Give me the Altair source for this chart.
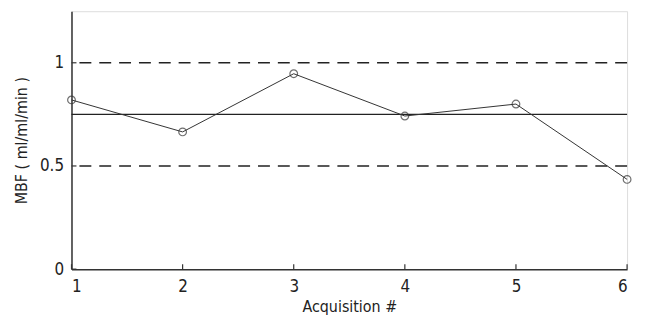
import altair as alt
import pandas as pd

acq = [1, 2, 3, 4, 5, 6]
mbf = [0.82, 0.665, 0.947, 0.742, 0.80, 0.435]
ref_levels = [0.5, 0.75, 1.0]
ref_dash = [True, False, True]
xticks = [1, 2, 3, 4, 5, 6]
yticks = [0, 0.5, 1]

df = pd.DataFrame({"acq": acq, "mbf": mbf})
refs = pd.DataFrame({"y": ref_levels, "dashed": ref_dash})
xt = pd.DataFrame({"x": xticks})
yt = pd.DataFrame({"y": yticks})

FONT = "DejaVu Sans Condensed, Liberation Sans, sans-serif"
xscale = alt.Scale(domain=[1, 6], nice=False, zero=False)
yscale = alt.Scale(domain=[0, 1.25], nice=False)

xaxis = alt.Axis(values=xticks, title="Acquisition #", ticks=False, grid=False,
                 labelFont=FONT, labelFontSize=17, labelColor="#222", labelPadding=10,
                 titleFont=FONT, titleFontSize=16, titleColor="#222", titleFontWeight="normal",
                 titlePadding=4, domainColor="#333", domainWidth=1.5, format="d")
yaxis = alt.Axis(values=yticks, title="MBF ( ml/ml/min )", ticks=False, grid=False,
                 labelFont=FONT, labelFontSize=17, labelColor="#222", labelPadding=8,
                 titleFont=FONT, titleFontSize=16, titleColor="#222", titleFontWeight="normal",
                 titlePadding=10, domainColor="#333", domainWidth=1.5, format="~g")

base = alt.Chart(df)

line = base.mark_line(color="#333", strokeWidth=1).encode(
    x=alt.X("acq:Q", scale=xscale, axis=xaxis),
    y=alt.Y("mbf:Q", scale=yscale, axis=yaxis),
)
pts = base.mark_point(shape="circle", filled=False, color="#333", size=60, strokeWidth=1.2).encode(
    x=alt.X("acq:Q", scale=xscale),
    y=alt.Y("mbf:Q", scale=yscale),
)

dashed = alt.Chart(refs[refs.dashed]).mark_rule(color="#222", strokeWidth=1.5, strokeDash=[12, 8]).encode(
    y=alt.Y("y:Q", scale=yscale),
)
solid = alt.Chart(refs[~refs.dashed]).mark_rule(color="#222", strokeWidth=1.2).encode(
    y=alt.Y("y:Q", scale=yscale),
)

xtick_marks = alt.Chart(xt).mark_rule(color="#333", strokeWidth=1.2).encode(
    x=alt.X("x:Q", scale=xscale),
    y=alt.value(260), y2=alt.value(255),
)
ytick_marks = alt.Chart(yt).mark_rule(color="#333", strokeWidth=1.2).encode(
    y=alt.Y("y:Q", scale=yscale),
    x=alt.value(0), x2=alt.value(5),
)

chart = alt.layer(dashed, solid, xtick_marks, ytick_marks, line, pts).properties(
    width=560, height=260,
    autosize=alt.AutoSizeParams(type="none"),
    padding={"left": 64, "top": 2, "right": 10, "bottom": 45},
).configure_view(stroke=None).configure(background="white")

chart.save("out.html", embed_options={"renderer": "svg", "actions": False})
